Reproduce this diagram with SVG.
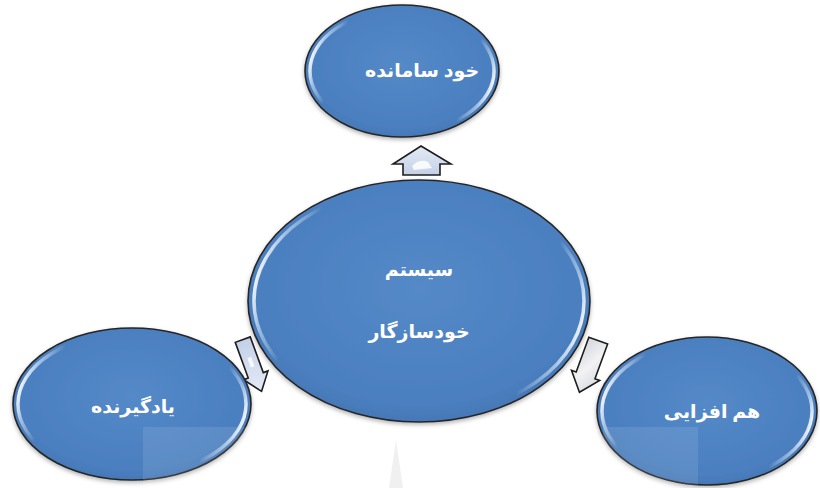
<svg xmlns="http://www.w3.org/2000/svg" width="820" height="488" viewBox="0 0 820 488">
  <style>
    .node-fill { fill: url(#blueFill); stroke: #262626; stroke-width: 1.6; filter: url(#shadow); }
    .gloss { fill: none; stroke: url(#glossStroke); stroke-width: 3.5; }
    .label { fill: #ffffff; font-family: "Liberation Serif", "DejaVu Sans", serif; font-weight: bold; font-size: 19px; text-anchor: middle; direction: rtl; }
    .arrow { stroke: #1e1e1e; stroke-width: 1.6; stroke-linejoin: miter; }
  </style>
  <defs>
    <radialGradient id="blueFill" cx="50%" cy="45%" r="60%">
      <stop offset="0" stop-color="#5489c8"/>
      <stop offset="0.8" stop-color="#4b7fbf"/>
      <stop offset="1" stop-color="#4172b0"/>
    </radialGradient>
    <linearGradient id="glossStroke" x1="0" y1="0.4" x2="1" y2="0.6">
      <stop offset="0" stop-color="#ffffff" stop-opacity="0.95"/>
      <stop offset="0.06" stop-color="#cfe3f7" stop-opacity="0.6"/>
      <stop offset="0.14" stop-color="#ffffff" stop-opacity="0"/>
      <stop offset="0.86" stop-color="#ffffff" stop-opacity="0"/>
      <stop offset="0.94" stop-color="#cfe3f7" stop-opacity="0.6"/>
      <stop offset="1" stop-color="#ffffff" stop-opacity="0.95"/>
    </linearGradient>
    <linearGradient id="arrowBlue" x1="0" y1="0" x2="0" y2="1">
      <stop offset="0" stop-color="#e4ebf6"/>
      <stop offset="1" stop-color="#c3d0e6"/>
    </linearGradient>
    <linearGradient id="arrowGrey" x1="0" y1="0" x2="1" y2="1">
      <stop offset="0" stop-color="#d2d4da"/>
      <stop offset="0.5" stop-color="#f2f2f4"/>
      <stop offset="1" stop-color="#cdd0d8"/>
    </linearGradient>
    <filter id="shadow" x="-10%" y="-10%" width="120%" height="125%">
      <feDropShadow dx="0" dy="2" stdDeviation="2" flood-color="#000" flood-opacity="0.3"/>
    </filter>
  </defs>

  <!-- faint background watermark -->
  <polygon points="396,440 389,488 403,488" fill="#e2e2e2" opacity="0.5"/>

  <g id="connectors">
    <g id="arrow-top">
      <path class="arrow" fill="url(#arrowBlue)" d="M421,146 L451,164 L440,164 L440,175 L403,175 L403,164 L393,164 Z"/>
      <path d="M412,166 Q420,158 428,162 L432,168 L414,170 Z" fill="#ffffff" opacity="0.85"/>
    </g>
    <g id="arrow-left" transform="translate(252,365) rotate(160)">
      <path class="arrow" fill="url(#arrowBlue)" d="M0,-28 L13,-11 L8,-11 L8,27 L-8,27 L-8,-11 L-13,-11 Z"/>
      <path d="M-2,-2 L2,-2 L2,8 L-2,8 Z" fill="#ffffff" opacity="0.8"/>
    </g>
    <g id="arrow-right" transform="translate(589,366) rotate(200)">
      <path class="arrow" fill="url(#arrowGrey)" d="M0,-28 L15,-10 L10,-10 L10,27 L-10,27 L-10,-10 L-15,-10 Z"/>
    </g>
  </g>

  <g id="node-top">
    <ellipse class="node-fill" cx="402" cy="71" rx="97" ry="66"/>
    <ellipse class="gloss" cx="402" cy="71" rx="92" ry="61"/>
    <text class="label" x="422" y="77">خود سامانده</text>
  </g>

  <g id="node-center">
    <ellipse class="node-fill" cx="419" cy="301" rx="171" ry="121"/>
    <ellipse class="gloss" cx="419" cy="301" rx="165" ry="115"/>
    <text class="label" x="419" y="276">سیستم</text>
    <text class="label" x="419" y="338">خودسازگار</text>
  </g>

  <g id="node-left">
    <ellipse class="node-fill" cx="132" cy="404" rx="119" ry="76"/>
    <ellipse class="gloss" cx="132" cy="404" rx="114" ry="71"/>
    <text class="label" x="133" y="413">یادگیرنده</text>
  </g>

  <g id="node-right">
    <ellipse class="node-fill" cx="707" cy="411" rx="110" ry="74"/>
    <ellipse class="gloss" cx="707" cy="411" rx="105" ry="69"/>
    <text class="label" x="712" y="418">هم افزایی</text>
  </g>

  <!-- faint light overlays present in the picture -->
  <rect x="143" y="427" width="115" height="61" fill="#ffffff" opacity="0.1"/>
  <rect x="603" y="427" width="95" height="61" fill="#ffffff" opacity="0.1"/>
</svg>
